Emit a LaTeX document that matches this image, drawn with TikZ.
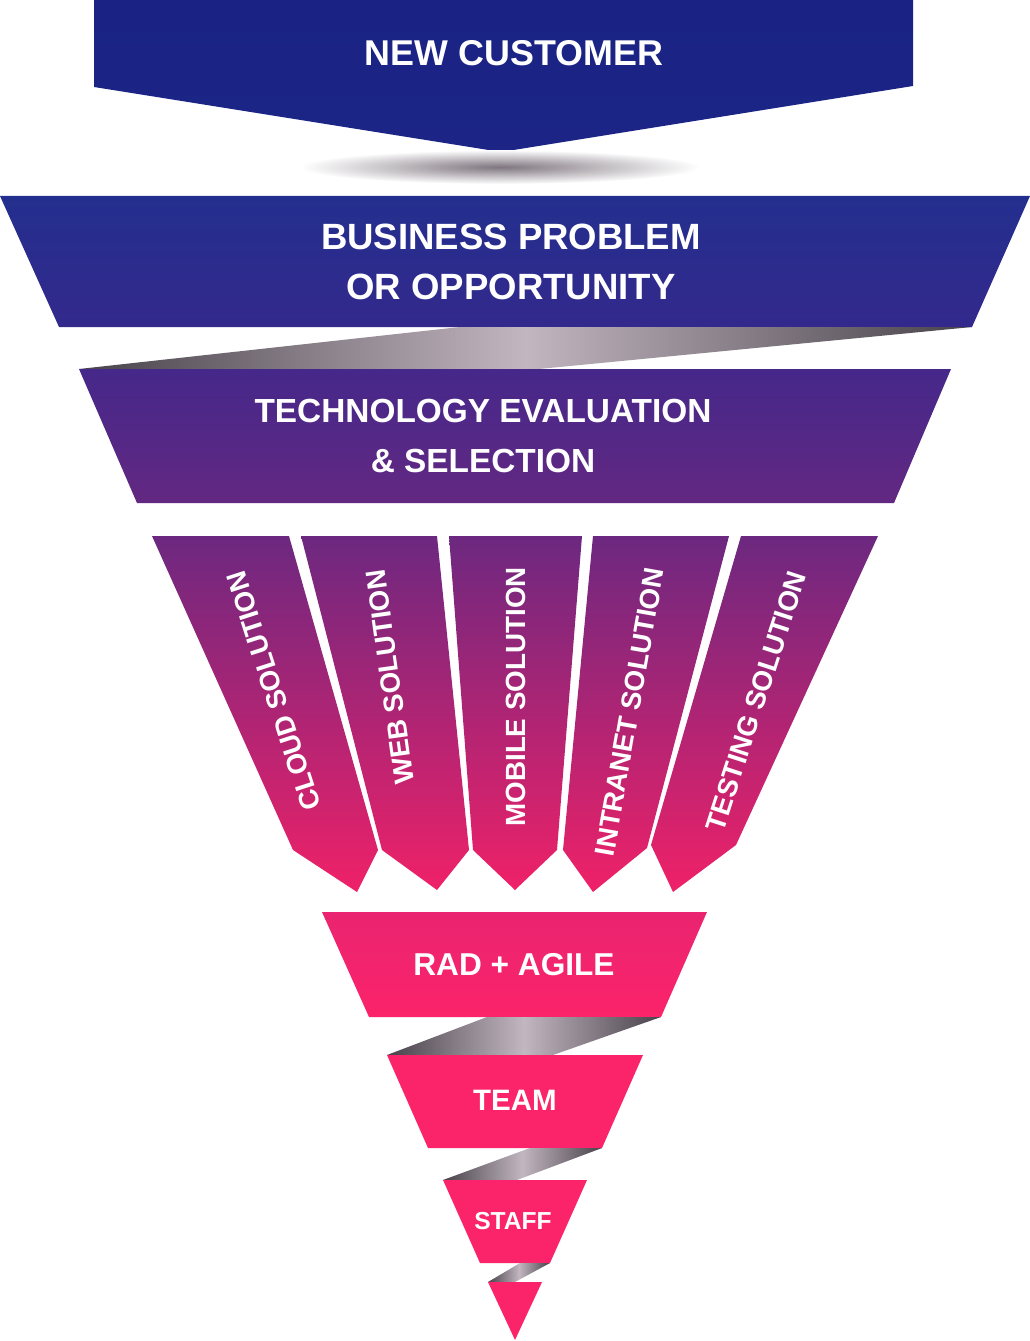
\documentclass[tikz,border=0pt]{standalone}
\usepackage{fontspec}
\setmainfont{Liberation Sans}
\usetikzlibrary{positioning}

\definecolor{ncblue}{HTML}{1A2384}
\definecolor{bptop}{HTML}{232F8E}
\definecolor{bpbot}{HTML}{33298C}
\definecolor{tetop}{HTML}{45288A}
\definecolor{tebot}{HTML}{632882}
\definecolor{sotop}{HTML}{6C2880}
\definecolor{sobot}{HTML}{EF2168}
\definecolor{pktop}{HTML}{EA2470}
\definecolor{pkbot}{HTML}{FB236A}
\definecolor{ribdk}{HTML}{48424A}
\definecolor{riblt}{HTML}{C2B6C0}

\begin{document}
\begin{tikzpicture}[x=0.02cm,y=-0.02cm,
  lbl/.style={text=white,inner sep=0pt,align=center,font=\bfseries\fontsize{20.4}{28}\selectfont},
  sol/.style={text=white,inner sep=0pt,anchor=east,font=\bfseries\fontsize{15.8}{18}\selectfont},
  rib/.style={left color=ribdk,right color=ribdk,middle color=riblt},
  stripfill/.style={top color=sotop,bottom color=sobot}]
\useasboundingbox (0,0) rectangle (1030,1341);
% top arrow and its shadow
\shade[top color=ncblue,bottom color=ncblue!80!bptop] (94,0) -- (913,0) -- (913,86) -- (501,152) -- (94,87) -- cycle;
\shade[inner color=ribdk!55!riblt,outer color=white] (500,167) ellipse [x radius=4cm,y radius=0.34cm];
% upper bands
\shade[top color=bptop,bottom color=bpbot] (0,196) -- (1030,196) -- (972,327) -- (59,327) -- cycle;
\shade[rib] (79,369) -- (460,327) -- (972,327) -- (539,369) -- cycle;
\shade[top color=tetop,bottom color=tebot] (79,369) -- (951,369) -- (894,503) -- (137,503) -- cycle;
% solution strips
\shade[stripfill] (152,536) -- (289,536) -- (378,850) -- (357,892) -- (293,850) -- cycle;
\shade[stripfill] (301,536) -- (437,536) -- (469,850) -- (437,890) -- (382,850) -- cycle;
\shade[stripfill] (449,536) -- (582,536) -- (557,850) -- (515,890) -- (473,850) -- cycle;
\shade[stripfill] (593,536) -- (729,536) -- (647,848) -- (593,892) -- (563,850) -- cycle;
\shade[stripfill] (741,536) -- (878,536) -- (736,845) -- (673,892) -- (651,845) -- cycle;
% lower bands
\shade[top color=pktop,bottom color=pkbot] (322,912) -- (707,912) -- (661,1017) -- (369,1017) -- cycle;
\shade[rib] (387,1055) -- (487,1017) -- (661,1017) -- (553,1055) -- cycle;
\fill[pkbot] (387,1055) -- (643,1055) -- (602,1148) -- (428,1148) -- cycle;
\shade[rib] (443,1180) -- (530,1148) -- (602,1148) -- (517,1180) -- cycle;
\fill[pkbot] (443,1180) -- (587,1180) -- (550,1263) -- (480,1263) -- cycle;
\shade[rib] (488,1282) -- (520,1263) -- (550,1263) -- (515,1282) -- cycle;
\fill[pkbot] (488,1282) -- (542,1282) -- (515,1340) -- cycle;
% labels
\node[lbl] (nc) at (514,53) {NEW CUSTOMER};
\node[lbl,font=\bfseries\fontsize{20.8}{28}\selectfont] (bp) at (511,262) {BUSINESS PROBLEM\\OR OPPORTUNITY};
\node[lbl,font=\bfseries\fontsize{19}{28.4}\selectfont] (te) at (483,436) {TECHNOLOGY EVALUATION\\\& SELECTION};
\node[sol,rotate=108] (cloud) at (235,572) {CLOUD SOLUTION};
\node[sol,rotate=98] (web) at (375,570) {WEB SOLUTION};
\node[sol,rotate=90] (mob) at (516,567) {MOBILE SOLUTION};
\node[sol,rotate=80] (intra) at (655,568) {INTRANET SOLUTION};
\node[sol,rotate=72] (test) at (798,572) {TESTING SOLUTION};
\node[lbl,font=\bfseries\fontsize{18}{22}\selectfont] (rad) at (514,965) {RAD + AGILE};
\node[lbl,font=\bfseries\fontsize{16.8}{20}\selectfont] (team) at (515,1100) {TEAM};
\node[lbl,font=\bfseries\fontsize{14}{17}\selectfont] (staff) at (513,1221) {STAFF};
\end{tikzpicture}
\end{document}
